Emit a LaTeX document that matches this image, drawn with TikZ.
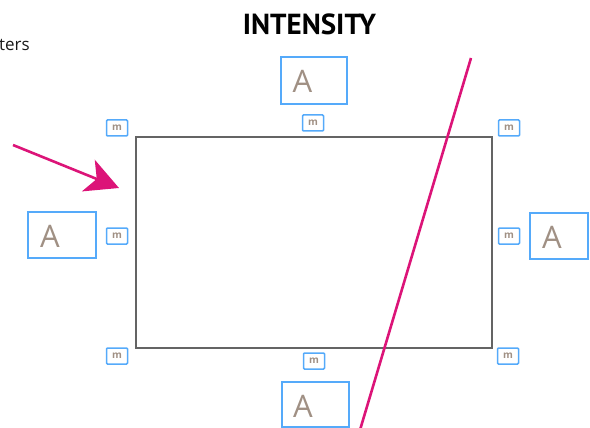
\documentclass[tikz,border=0pt]{standalone}
\usepackage{fontspec}
\setmainfont{Open Sans}
\newfontfamily\titlefont{PT Sans}
\usetikzlibrary{arrows.meta}
\definecolor{boxblue}{RGB}{85,170,250}
\definecolor{glyphgray}{RGB}{160,144,132}
\definecolor{framegray}{RGB}{100,100,100}
\definecolor{magentaline}{RGB}{220,20,120}
\tikzset{
  labelbox/.style={draw=boxblue, line width=1.4pt, minimum width=#1, minimum height=46pt,
    inner sep=0pt},
  bigglyph/.style={text=glyphgray, font=\fontsize{31}{31}\selectfont, inner sep=0pt},
  markbox/.style={draw=boxblue, line width=1.5pt, rounded corners=1pt, minimum width=21pt,
    minimum height=16pt, inner sep=0pt, text=glyphgray, font=\bfseries\fontsize{10}{10}\selectfont},
  pointer/.style={draw=magentaline, line width=2.6pt},
}
\begin{document}
\begin{tikzpicture}[x=1pt,y=-1pt]
\useasboundingbox (0,0) rectangle (590,428);

% heading and cut-off caption
\node[font=\titlefont\bfseries\fontsize{29}{29}\selectfont, inner sep=0pt] (title) at (309.5,24) {INTENSITY};
\node[anchor=west, font=\fontsize{17}{17}\selectfont, text=black!90, inner sep=0pt] (caption) at (-1,44.5) {ters};

% frame
\node[draw=framegray, line width=2pt, minimum width=356pt, minimum height=211pt, inner sep=0pt] (frame) at (314,242.5) {};

% label boxes with the glyph set to the left
\node[labelbox=66pt, minimum height=47pt] (atop) at (314,80.5) {};
\node[bigglyph] (atopA) at (302.5,81) {A};
\node[labelbox=68pt] (aleft) at (62,235) {};
\node[bigglyph] (aleftA) at (50,236) {A};
\node[labelbox=58pt] (aright) at (559,236) {};
\node[bigglyph] (arightA) at (552,237) {A};
\node[labelbox=67pt, minimum height=45pt] (abottom) at (315.5,404.5) {};
\node[bigglyph] (abottomA) at (303,406) {A};

% margin markers
\node[markbox] (mtl) at (117,128) {m};
\node[markbox] (mtc) at (313,123) {m};
\node[markbox] (mtr) at (509,128) {m};
\node[markbox] (ml) at (117,236) {m};
\node[markbox] (mr) at (509,236) {m};
\node[markbox] (mbl) at (117,356) {m};
\node[markbox] (mbc) at (314,361) {m};
\node[markbox] (mbr) at (508,356) {m};

% magenta guides
\coordinate (lineA) at (471,58);
\coordinate (lineB) at (360,430);
\draw[pointer] (lineA) -- (lineB);
\coordinate (arrA) at (13,145);
\coordinate (arrB) at (119,188);
\draw[pointer, -{Stealth[length=33pt, width=34pt, inset=9pt]}] (arrA) -- (arrB);
\end{tikzpicture}
\end{document}
